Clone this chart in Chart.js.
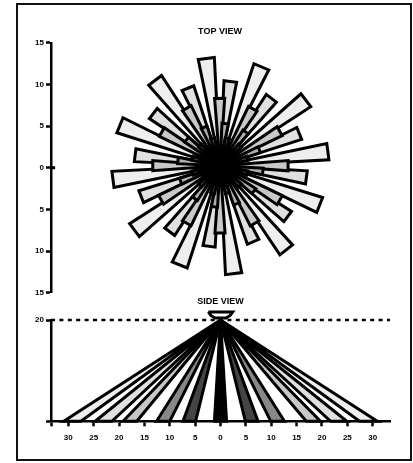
<!DOCTYPE html>
<html>
<head>
<meta charset="utf-8">
<title>Top view and side view</title>
<script src="https://cdn.jsdelivr.net/npm/chart.js@4"></script>
<style>
  html, body { margin: 0; padding: 0; background: #fff; overflow: hidden; }
  #frame { position: absolute; left: 16px; top: 3px; width: 396px; height: 458px; box-sizing: border-box; border: 2px solid #111; }
  canvas { position: absolute; left: 0; }
  #topView { top: 0; }
  #sideView { top: 295px; }
</style>
</head>
<body>
<div id="frame"></div>
<canvas id="topView" width="413" height="300"></canvas>
<canvas id="sideView" width="413" height="168"></canvas>
<script>
// Top view rays: compass angle in degrees and reach, one list per ring
const longAngles = [352.7, 22.7, 52.7, 82.6, 111.5, 141.8, 172.8, 202.1, 233, 262.7, 292, 322.7];
const longReach = [13.0, 12.9, 13.0, 13.1, 12.9, 12.9, 13.1, 12.9, 12.9, 13.0, 13.0, 12.9];
const midAngles = [7, 37.3, 67.9, 97.7, 126.9, 156.5, 187.7, 217.3, 248.5, 277, 308, 337.5];
const midReach = [10.2, 10.2, 10.3, 10.5, 10.2, 10.0, 9.8, 10.0, 10.2, 10.3, 10.2, 10.1];
const darkAngles = [359.7, 30, 60, 90, 120, 149, 180, 210, 240, 270, 300, 330];
const darkReach = [8.1, 7.9, 8.3, 8.2, 8.3, 8.1, 8.1, 8.0, 8.2, 8.1, 8.1, 8.0];
const innerReach = [5.1, 5.1, 5.1, 5.2, 5.1, 5.0, 5.0, 5.0, 5.1, 5.1, 5.1, 5.0];
const shortAngles = [15, 45, 75, 105, 135, 165, 195, 225, 255, 285, 315, 345];
const shortReach = [3.4, 3.4, 3.4, 3.4, 3.4, 3.4, 3.4, 3.4, 3.4, 3.4, 3.4, 3.4];

// Side view beams: where each one lands on the floor
const beamStarts = [-30.9, -24.7, -19.2, -12.6, -7.4, -1.2, 4.9, 9.9, 16.9, 21.7, 27.4];
const beamEnds = [-27.5, -21.4, -16.5, -10, -4.9, 1.2, 7.4, 12.6, 19.7, 24.9, 30.9];
const beamColors = ['#eeeeee', '#e0e0e0', '#c8c8c8', '#888888', '#444444', '#000000', '#444444', '#888888', '#c8c8c8', '#e0e0e0', '#eeeeee'];

// Axis ticks
const topTicks = [15, 10, 5, 0, -5, -10, -15];
const sideTicksX = [-33.4, -30, -25, -20, -15, -10, -5, 0, 5, 10, 15, 20, 25, 30];
const sideLabelsX = ['', '30', '25', '20', '15', '10', '5', '0', '5', '10', '15', '20', '25', '30'];
const sideTicksY = [0, 20];
const sideLabelsY = ['', '20'];

// Lamp outline above the mounting height
const lampX = [-2.4, 2.4, 1.9, 1.1, -1.1, -1.9, -2.4];
const lampY = [21.6, 21.6, 20.9, 20.4, 20.4, 20.9, 21.6];

const tickFont = { family: 'Liberation Sans', size: 8, weight: 'bold' };
const titleFont = { family: 'Liberation Sans', size: 9, weight: 'bold' };
const lineWidth = 2.5;
const rayLineWidth = 3;

// The star sits a little above the zero tick in the original
const starCenterY = 0.25;
const halfWidth = 4.3; // degrees

function rayPoints(angle, reach) {
  const a = (angle - halfWidth) * Math.PI / 180;
  const b = (angle + halfWidth) * Math.PI / 180;
  const c = { x: 0, y: starCenterY };
  return [
    c,
    { x: reach * Math.sin(a), y: starCenterY + reach * Math.cos(a) },
    { x: reach * Math.sin(b), y: starCenterY + reach * Math.cos(b) },
    c
  ];
}

function shape(points, color) {
  return {
    data: points,
    showLine: true,
    pointRadius: 0,
    fill: 'shape',
    backgroundColor: color,
    borderColor: '#000',
    borderWidth: rayLineWidth,
    borderJoinStyle: 'miter',
    clip: false
  };
}

// Chart.js draws the first dataset on top, so rings go from inner to outer
const topDatasets = [
  shape([{ x: -20.3, y: 0 }, { x: -19.8, y: 0 }], 'transparent')
];
shortReach.forEach((r, i) => topDatasets.push(shape(rayPoints(shortAngles[i], r), '#555555')));
innerReach.forEach((r, i) => topDatasets.push(shape(rayPoints(midAngles[i], r), '#b0b0b0')));
darkReach.forEach((r, i) => topDatasets.push(shape(rayPoints(darkAngles[i], r), '#c8c8c8')));
midReach.forEach((r, i) => topDatasets.push(shape(rayPoints(midAngles[i], r), '#e0e0e0')));
longReach.forEach((r, i) => topDatasets.push(shape(rayPoints(longAngles[i], r), '#eeeeee')));

new Chart(document.getElementById('topView'), {
  type: 'scatter',
  data: { datasets: topDatasets },
  options: {
    responsive: false,
    animation: false,
    layout: { padding: { left: 0, right: 24, top: 0, bottom: 7.3 } },
    plugins: {
      legend: { display: false },
      tooltip: { enabled: false },
      title: {
        display: true,
        text: 'TOP VIEW',
        fullSize: false,
        color: '#000',
        font: titleFont,
        padding: { top: 26.5, bottom: 5.5 }
      }
    },
    scales: {
      x: { display: false, min: -20.3, max: 20.3 },
      y: {
        min: -15,
        max: 15,
        afterFit: s => { s.width = 51; },
        afterBuildTicks: s => { s.ticks = topTicks.map(v => ({ value: v })); },
        border: { color: '#000', width: lineWidth },
        grid: { drawOnChartArea: false, tickLength: 5, tickWidth: lineWidth, color: '#000' },
        ticks: { color: '#000', font: tickFont, padding: 2, callback: v => String(Math.abs(v)) }
      }
    }
  }
});

const sideDatasets = [];
beamStarts.forEach((s, i) => {
  sideDatasets.push(shape([{ x: 0, y: 20 }, { x: s, y: 0 }, { x: beamEnds[i], y: 0 }, { x: 0, y: 20 }], beamColors[i]));
});
sideDatasets.unshift(shape(lampX.map((x, i) => ({ x: x, y: lampY[i] })), '#fff'));
// Mounting height
sideDatasets.push({
  data: [{ x: -33.4, y: 20 }, { x: 33.4, y: 20 }],
  showLine: true,
  pointRadius: 0,
  borderColor: '#000',
  borderWidth: lineWidth,
  borderDash: [4, 4.4],
  clip: false
});

new Chart(document.getElementById('sideView'), {
  type: 'scatter',
  data: { datasets: sideDatasets },
  options: {
    responsive: false,
    animation: false,
    layout: { padding: { left: 0, right: 23, top: 0, bottom: 11.7 } },
    plugins: {
      legend: { display: false },
      tooltip: { enabled: false },
      title: {
        display: true,
        text: 'SIDE VIEW',
        fullSize: false,
        color: '#000',
        font: titleFont,
        padding: { top: 1, bottom: 13.2 }
      }
    },
    scales: {
      x: {
        min: -33.4,
        max: 33.4,
        afterFit: s => { s.height = 30; },
        afterBuildTicks: s => { s.ticks = sideTicksX.map(v => ({ value: v })); },
        border: { color: '#000', width: lineWidth },
        grid: { drawOnChartArea: false, tickLength: 5, tickWidth: lineWidth, color: '#000' },
        ticks: { color: '#000', font: tickFont, padding: 7, maxRotation: 0, autoSkip: false, callback: (v, i) => sideLabelsX[i] }
      },
      y: {
        min: 0,
        max: 20,
        afterFit: s => { s.width = 51; },
        afterBuildTicks: s => { s.ticks = sideTicksY.map(v => ({ value: v })); },
        border: { color: '#000', width: lineWidth },
        grid: { drawOnChartArea: false, tickLength: 5, tickWidth: lineWidth, color: '#000' },
        ticks: { color: '#000', font: tickFont, padding: 2, callback: (v, i) => sideLabelsY[i] }
      }
    }
  }
});
</script>
</body>
</html>
